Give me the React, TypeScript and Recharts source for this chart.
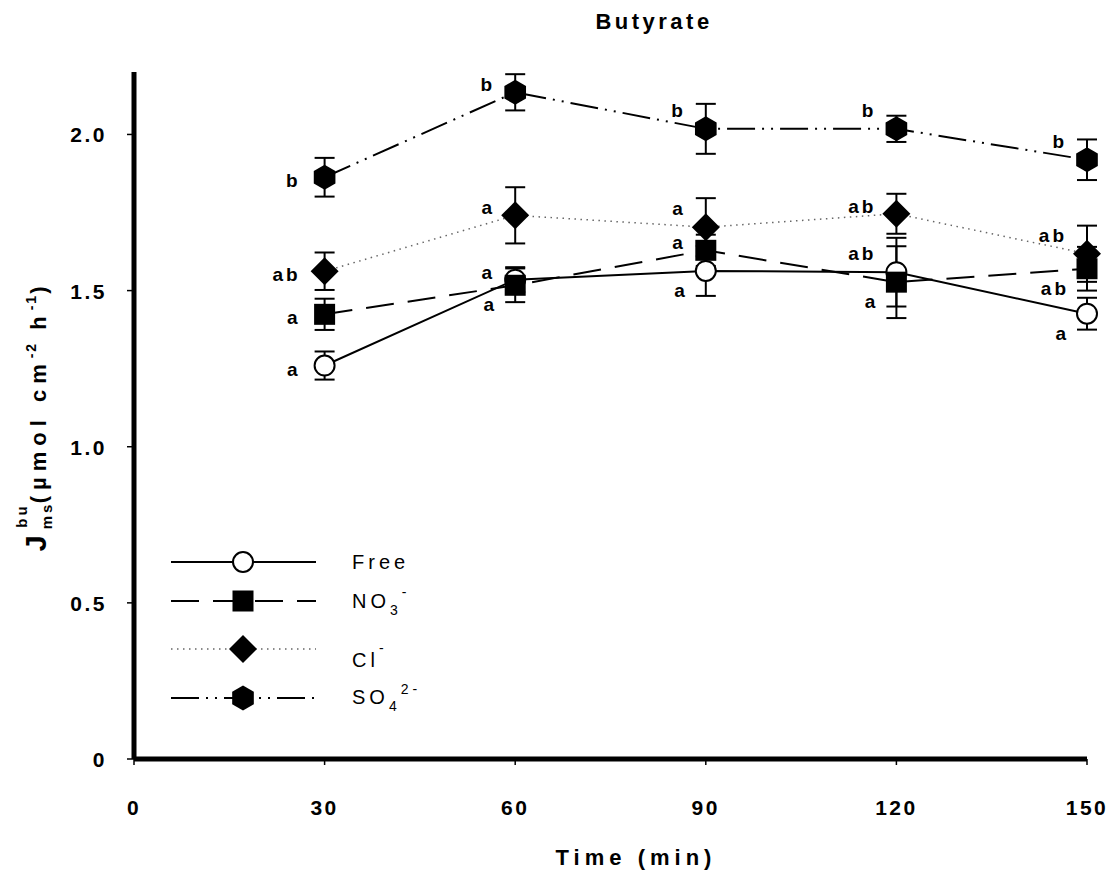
import { ErrorBar, LabelList, Legend, Line, LineChart, XAxis, YAxis } from "recharts";

// sampling times (min)
const times = [30, 60, 90, 120, 150];

// J_ms (µmol cm-2 h-1), mean and error per buffer
const freeMean = [1.26, 1.535, 1.563, 1.559, 1.426];
const freeErr = [0.045, 0.04, 0.08, 0.11, 0.051];
const no3Mean = [1.424, 1.517, 1.629, 1.527, 1.57];
const no3Err = [0.05, 0.054, 0.05, 0.115, 0.07];
const clMean = [1.562, 1.741, 1.703, 1.746, 1.618];
const clErr = [0.06, 0.09, 0.093, 0.064, 0.09];
const so4Mean = [1.863, 2.135, 2.018, 2.018, 1.919];
const so4Err = [0.062, 0.058, 0.08, 0.042, 0.065];

// significance letters
const freeSig = ["a", "a", "a", "ab", "a"];
const no3Sig = ["a", "a", "a", "a", "ab"];
const clSig = ["ab", "a", "a", "ab", "ab"];
const so4Sig = ["b", "b", "b", "b", "b"];

const xTicks = [0, 30, 60, 90, 120, 150];
const yTicks = [0, 0.5, 1, 1.5, 2];

const data = times.map((t, i) => ({
  t,
  free: freeMean[i], freeErr: freeErr[i], freeSig: freeSig[i],
  no3: no3Mean[i], no3Err: no3Err[i], no3Sig: no3Sig[i],
  cl: clMean[i], clErr: clErr[i], clSig: clSig[i],
  so4: so4Mean[i], so4Err: so4Err[i], so4Sig: so4Sig[i],
}));

const FONT = "Arial, 'Liberation Sans', sans-serif";

type Shape = "circle" | "square" | "diamond" | "hexagon";

// where each letter sits relative to its marker
const sigOffset: Record<string, [number, number]> = {
  L: [-24, 3],
  NL: [-20, -8],
  UL: [-20, -19],
  LL: [-18, 19],
};

const series = [
  { key: "free", shape: "circle" as Shape, stroke: "#000", width: 2, dash: undefined, places: ["L", "NL", "LL", "UL", "LL"] },
  { key: "no3", shape: "square" as Shape, stroke: "#000", width: 2, dash: "28 14", places: ["L", "LL", "NL", "LL", "LL"] },
  { key: "cl", shape: "diamond" as Shape, stroke: "#666", width: 1.5, dash: "1.5 4.5", places: ["L", "NL", "UL", "NL", "UL"] },
  { key: "so4", shape: "hexagon" as Shape, stroke: "#000", width: 2, dash: "28 7 2 7 2 7", places: ["L", "NL", "UL", "UL", "UL"] },
];

function Marker({ shape, cx, cy }: { shape: Shape; cx: number; cy: number }) {
  if (shape === "circle") return <circle cx={cx} cy={cy} r={10} fill="#fff" stroke="#000" strokeWidth={2} />;
  if (shape === "square") return <rect x={cx - 10.5} y={cy - 10.5} width={21} height={21} fill="#000" />;
  if (shape === "diamond")
    return <polygon points={`${cx},${cy - 14} ${cx + 14},${cy} ${cx},${cy + 14} ${cx - 14},${cy}`} fill="#000" />;
  const r = 12.5;
  const pts = [90, 30, -30, -90, -150, 150]
    .map((a) => `${cx + r * Math.cos((a * Math.PI) / 180)},${cy - r * Math.sin((a * Math.PI) / 180)}`)
    .join(" ");
  return <polygon points={pts} fill="#000" />;
}

const dotFor = (shape: Shape) => (props: any) => (
  <Marker key={`${shape}-${props.index}`} shape={shape} cx={props.cx} cy={props.cy} />
);

const sigFor = (places: string[]) => (props: any) => {
  const { x, y, value, index } = props;
  const [dx, dy] = sigOffset[places[index]];
  return (
    <text x={x + dx} y={y + dy} dy={7} textAnchor="end" fontFamily={FONT} fontWeight="bold" fontSize={19} letterSpacing={3} fill="#000">
      {value}
    </text>
  );
};

const XTick = (props: any) => (
  <text x={props.x} y={props.y + 48} textAnchor="middle" fontFamily={FONT} fontWeight="bold" fontSize={21} letterSpacing={2.5} fill="#000">
    {props.payload.value}
  </text>
);

const YTick = (props: any) => {
  const v = props.payload.value;
  return (
    <text x={props.x - 18} y={props.y + 8} textAnchor="end" fontFamily={FONT} fontWeight="bold" fontSize={21} letterSpacing={2.5} fill="#000">
      {v === 0 ? "0" : v.toFixed(1)}
    </text>
  );
};

function LegendLabel({ k }: { k: string }) {
  const common = { fontFamily: FONT, fontSize: 20, letterSpacing: 4, fill: "#000" };
  if (k === "free") return <text x={192} y={7} {...common}>Free</text>;
  if (k === "no3")
    return (
      <text x={192} y={7} {...common}>
        NO<tspan fontSize={14} dy={7}>3</tspan><tspan fontSize={14} dy={-18}>-</tspan>
      </text>
    );
  if (k === "cl")
    return (
      <text x={192} y={18} {...common}>
        Cl<tspan fontSize={14} dy={-14}>-</tspan>
      </text>
    );
  return (
    <text x={192} y={6} {...common}>
      SO<tspan fontSize={14} dy={7}>4</tspan><tspan fontSize={14} dy={-17}>2-</tspan>
    </text>
  );
}

const legendRows = [22, 61, 109, 158];

function LegendBox() {
  return (
    <svg width={320} height={180}>
      {series.map((s, i) => (
        <g key={s.key} transform={`translate(0,${legendRows[i]})`}>
          <line x1={11} x2={156} y1={0} y2={0} stroke={s.stroke} strokeWidth={s.width} strokeDasharray={s.dash} />
          <Marker shape={s.shape} cx={83} cy={0} />
          <LegendLabel k={s.key} />
        </g>
      ))}
    </svg>
  );
}

export default function App() {
  return (
    <div style={{ position: "absolute", left: 0, top: 0, background: "#fff" }}>
      <LineChart width={1110} height={874} data={data} margin={{ top: 72, right: 23, left: 0, bottom: 0 }}>
        <text x={654} y={29} textAnchor="middle" fontFamily={FONT} fontWeight="bold" fontSize={22} letterSpacing={3.5} fill="#000">
          Butyrate
        </text>
        <text x={636} y={865} textAnchor="middle" fontFamily={FONT} fontWeight="bold" fontSize={22} letterSpacing={5} fill="#000">
          Time (min)
        </text>
        <text transform="translate(46,416) rotate(-90)" textAnchor="middle" fontFamily={FONT} fontWeight="bold" fontSize={22} letterSpacing={6} fill="#000">
          <tspan fontSize={29}>J</tspan>
          <tspan fontSize={15} letterSpacing={3} dy={6}>ms</tspan>
          <tspan fontSize={15} letterSpacing={3} dx={-26} dy={-25}>bu</tspan>
          <tspan dy={19}>(µmol cm</tspan>
          <tspan fontSize={14} letterSpacing={2} dy={-10}>-2</tspan>
          <tspan dy={10}> h</tspan>
          <tspan fontSize={14} letterSpacing={2} dy={-10}>-1</tspan>
          <tspan dy={10}>)</tspan>
        </text>
        <XAxis
          dataKey="t"
          type="number"
          domain={[0, 150]}
          ticks={xTicks}
          height={115}
          stroke="#000"
          axisLine={{ stroke: "#000", strokeWidth: 5 }}
          tickLine={{ stroke: "#000", strokeWidth: 1.5 }}
          tickSize={6}
          tick={XTick}
        />
        <YAxis
          type="number"
          domain={[0, 2.2]}
          ticks={yTicks}
          width={134}
          allowDataOverflow
          stroke="#000"
          axisLine={{ stroke: "#000", strokeWidth: 5 }}
          tickLine={{ stroke: "#000", strokeWidth: 1.5 }}
          tickSize={7}
          tick={YTick}
        />
        <Legend
          layout="vertical"
          align="center"
          verticalAlign="middle"
          wrapperStyle={{ left: 160, top: 540, width: 320, height: 180 }}
          content={() => <LegendBox />}
        />
        {series.map((s) => (
          <Line
            key={s.key}
            dataKey={s.key}
            stroke={s.stroke}
            strokeWidth={s.width}
            strokeDasharray={s.dash}
            dot={dotFor(s.shape)}
            activeDot={false}
            isAnimationActive={false}
          >
            <ErrorBar dataKey={`${s.key}Err`} direction="y" width={10} stroke="#000" strokeWidth={2} />
            <LabelList dataKey={`${s.key}Sig`} content={sigFor(s.places)} />
          </Line>
        ))}
      </LineChart>
    </div>
  );
}
